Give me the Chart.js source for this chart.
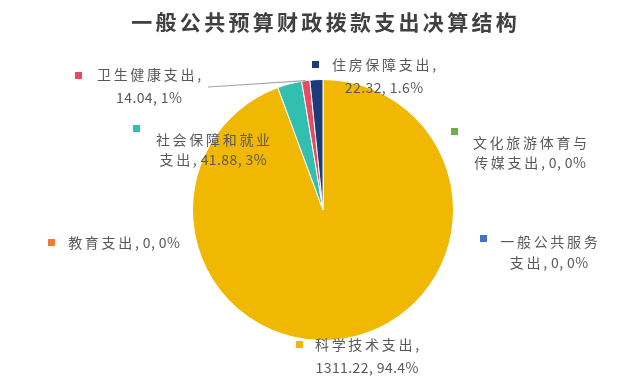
<!DOCTYPE html>
<html><head><meta charset="utf-8">
<script src="https://cdn.jsdelivr.net/npm/chart.js@4/dist/chart.umd.min.js"></script>
<style>html,body{margin:0;padding:0;background:#fff}#wrap{width:640px;height:383px;position:relative}</style>
</head><body><div id="wrap"><canvas id="c"></canvas></div>
<script>
const titleText = '一般公共预算财政拨款支出决算结构';
const categories = ['一般公共服务支出','教育支出','科学技术支出','文化旅游体育与传媒支出','社会保障和就业支出','卫生健康支出','住房保障支出'];
const values = [0, 0, 1311.22, 0, 41.88, 14.04, 22.32];
const colors = ['#4472C4','#ED7D31','#F0B800','#70AD47','#33BFB0','#E84A5F','#1F3A7A'];

// label layout (positions only): center x, first line y, line height, break index in text
const labelLayout = [
  {cx:549, y:242, lh:21, brk:6, sq:[480,235]},
  {cx:124, y:243, lh:21, brk:-1, sq:[48,239]},
  {cx:367, y:345, lh:23, brk:7, sq:[296,341]},
  {cx:530, y:143, lh:20, brk:7, sq:[451,128]},
  {cx:213, y:140, lh:20, brk:7, sq:[133,125]},
  {cx:149, y:75, lh:23, brk:7, sq:[75,72]},
  {cx:384, y:65, lh:23, brk:7, sq:[312,61]}
];

const total = values.reduce((a,b)=>a+b,0);
function labelText(i){
  const pct = Math.round(values[i]/total*1000)/10;
  return categories[i] + ', ' + String(values[i]) + ', ' + String(pct) + '%';
}
function sp(ch, cjkSp, latSp){ return ch.charCodeAt(0) > 0x2E80 ? cjkSp : latSp; }
function spacedWidth(ctx, s, cjkSp, latSp){
  let w = 0; const arr = [...s];
  arr.forEach((ch,k)=>{ w += ctx.measureText(ch).width + (k<arr.length-1 ? sp(ch,cjkSp,latSp) : 0); });
  return w;
}
function drawSpaced(ctx, s, cx, y, cjkSp, latSp){
  const w = spacedWidth(ctx, s, cjkSp, latSp);
  let x = cx - w/2;
  for (const ch of s){ ctx.fillText(ch, x, y); x += ctx.measureText(ch).width + sp(ch,cjkSp,latSp); }
}

const labelPlugin = {
  id:'labels',
  afterDraw(chart){
    const ctx = chart.ctx;
    ctx.save();
    // title
    ctx.fillStyle = '#404040';
    ctx.font = 'bold 21px "Noto Sans CJK SC", sans-serif';
    ctx.textBaseline = 'middle';
    ctx.textAlign = 'left';
    drawSpaced(ctx, titleText, 324, 22, 3.3, 1);
    // leader line for 卫生健康支出
    const meta = chart.getDatasetMeta(0);
    const arc = meta.data[5];
    const p = arc.getProps(['x','y','startAngle','endAngle','outerRadius'], true);
    const mid = (p.startAngle + p.endAngle)/2;
    ctx.strokeStyle = '#A6A6A6';
    ctx.lineWidth = 1.2;
    ctx.beginPath();
    ctx.moveTo(208, 87);
    ctx.lineTo(p.x + Math.cos(mid)*p.outerRadius, p.y + Math.sin(mid)*p.outerRadius);
    ctx.stroke();
    // labels
    ctx.font = '14px "Noto Sans CJK SC", sans-serif';
    for (let i=0;i<categories.length;i++){
      const L = labelLayout[i];
      const t = labelText(i);
      let lines;
      if (L.brk < 0) lines = [t];
      else lines = [t.slice(0, L.brk).trim(), t.slice(L.brk).trim()];
      ctx.fillStyle = colors[i];
      ctx.fillRect(L.sq[0], L.sq[1], 7, 7);
      ctx.fillStyle = '#595959';
      lines.forEach((ln, k) => drawSpaced(ctx, ln, L.cx, L.y + k*L.lh, 2.7, 0.4));
    }
    ctx.restore();
  }
};

new Chart(document.getElementById('c'), {
  type:'pie',
  data:{ labels:categories, datasets:[{ data:values, backgroundColor:colors, borderColor:'#ffffff', borderWidth:1 }] },
  options:{
    responsive:true, maintainAspectRatio:false, animation:false,
    layout:{ padding:{ top:79, bottom:42, left:192, right:186 } },
    plugins:{ legend:{display:false}, tooltip:{enabled:false}, title:{display:false} }
  },
  plugins:[labelPlugin]
});
</script>
</body></html>
